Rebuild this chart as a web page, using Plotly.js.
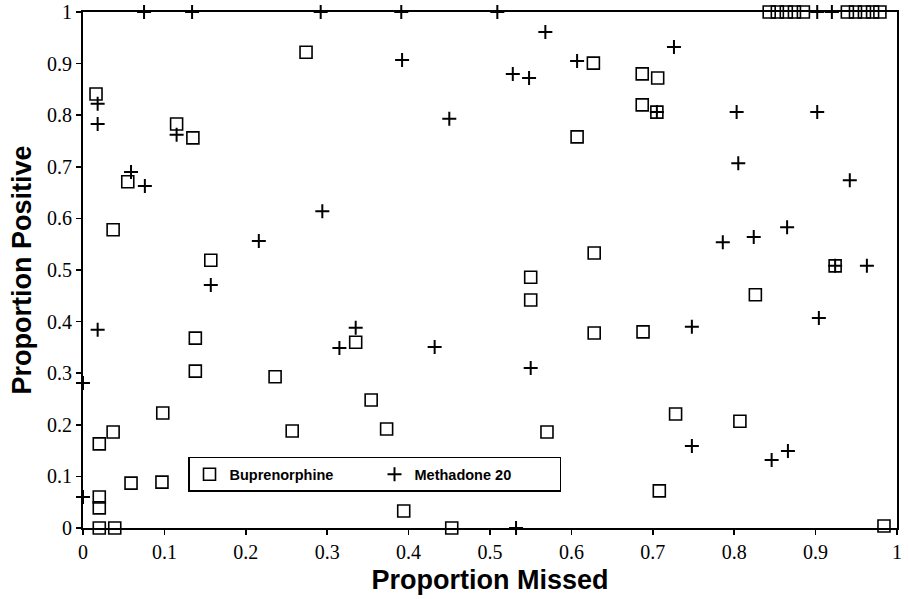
<!DOCTYPE html>
<html>
<head>
<meta charset="utf-8">
<script src="https://cdn.plot.ly/plotly-3.0.1.min.js"></script>
<style>html,body{margin:0;padding:0;background:#fff;}#chart{width:909px;height:599px;}</style>
</head>
<body>
<div id="chart"></div>
<script>
// Buprenorphine (square markers)
const bupX = [0.016,0.115,0.135,0.055,0.274,0.627,0.607,0.687,0.706,0.687,0.705,
  0.843,0.853,0.864,0.874,0.885,0.939,0.949,0.960,0.970,0.979,
  0.037,0.157,0.138,0.138,0.236,0.335,0.628,0.550,0.550,0.628,0.924,
  0.373,0.354,0.257,0.570,0.394,0.453,0.098,0.037,0.020,0.059,0.097,0.020,0.020,0.020,0.039,
  0.728,0.807,0.708,0.984,0.826,0.688];
const bupY = [0.841,0.783,0.756,0.671,0.922,0.901,0.758,0.880,0.872,0.820,0.806,
  1,1,1,1,1,1,1,1,1,1,
  0.578,0.519,0.368,0.304,0.293,0.360,0.533,0.486,0.442,0.378,0.508,
  0.192,0.248,0.188,0.186,0.033,0,0.223,0.186,0.163,0.087,0.089,0.060,0.039,0,0,
  0.221,0.207,0.072,0.004,0.452,0.380];

// Methadone 20 (cross markers)
const metX = [0.018,0.018,0.115,0.059,0.076,
  0.075,0.134,0.292,0.391,0.509,0.902,0.920,
  0.392,0.568,0.528,0.548,0.607,0.450,0.726,0.705,0.803,0.902,0.805,0.942,
  0.157,0.216,0.018,0.294,0.335,0.315,0.432,0.550,0.786,0.824,0.865,0.924,0.963,0.904,0.748,
  0,0,0.532,0.748,0.846,0.866];
const metY = [0.822,0.783,0.762,0.690,0.663,
  1,1,1,1,1,1,1,
  0.907,0.961,0.880,0.872,0.905,0.793,0.932,0.806,0.806,0.806,0.707,0.674,
  0.471,0.556,0.384,0.614,0.388,0.349,0.351,0.310,0.554,0.564,0.583,0.508,0.508,0.407,0.390,
  0.281,0.060,0,0.159,0.132,0.149];

const tickVals = [0,0.1,0.2,0.3,0.4,0.5,0.6,0.7,0.8,0.9,1];
const tickText = ['0','0.1','0.2','0.3','0.4','0.5','0.6','0.7','0.8','0.9','1'];

const traces = [
  {x: bupX, y: bupY, name: 'Buprenorphine', type: 'scatter', mode: 'markers', cliponaxis: false,
   marker: {symbol: 'square-open', size: 12, color: '#000', line: {width: 1.6, color: '#000'}}},
  {x: metX, y: metY, name: 'Methadone 20', type: 'scatter', mode: 'markers', cliponaxis: false,
   marker: {symbol: 'cross-thin-open', size: 10, color: '#000', line: {width: 2, color: '#000'}}}
];

function axis(titleText, standoff) {
  return {
    range: [0, 1], tickvals: tickVals, ticktext: tickText,
    showgrid: false, zeroline: false, showline: true, linecolor: '#000', linewidth: 2,
    mirror: true, ticks: 'outside', ticklen: 5, tickwidth: 1.5, tickcolor: '#000',
    tickfont: {family: 'Liberation Serif', size: 20, color: '#000'},
    title: {text: titleText, standoff: standoff,
      font: {family: 'Liberation Sans', size: 27, color: '#000', weight: 'bold'}}
  };
}

const layout = {
  width: 909, height: 599,
  margin: {l: 83, r: 12, t: 12, b: 71},
  paper_bgcolor: '#fff', plot_bgcolor: '#fff',
  showlegend: true,
  xaxis: axis('Proportion Missed', 8),
  yaxis: axis('Proportion Positive', 8),
  legend: {
    orientation: 'h', x: 0.129, y: 0.138, xanchor: 'left', yanchor: 'top',
    bordercolor: '#000', borderwidth: 1.5, bgcolor: '#fff',
    entrywidth: 140, entrywidthmode: 'pixels',
    font: {family: 'Liberation Sans', size: 14.5, color: '#000', weight: 'bold'}
  }
};

Plotly.newPlot('chart', traces, layout, {displayModeBar: false, staticPlot: true});
</script>
</body>
</html>
